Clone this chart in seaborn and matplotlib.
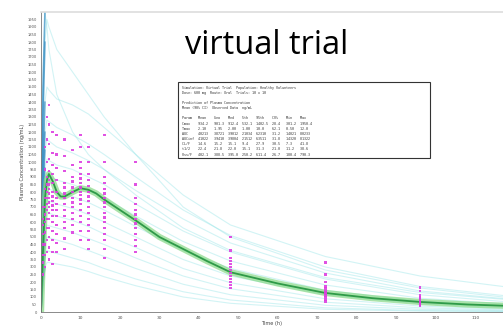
import matplotlib
matplotlib.use("Agg")
import matplotlib.pyplot as plt
import seaborn as sns
import pandas as pd
import numpy as np
from matplotlib.patches import Rectangle

# ---------------- data ----------------
sim_time = [0, 0.5, 1, 1.5, 2, 4, 8, 12, 16, 24, 36, 48, 72, 96, 117]
sim_c1 = [0, 1300, 1800, 1950, 1900, 1750, 1600, 1450, 1300, 1050, 700, 500, 280, 160, 100]
sim_c2 = [0, 1000, 1400, 1500, 1480, 1420, 1380, 1320, 1230, 1050, 780, 580, 370, 240, 170]
sim_c3 = [0, 900, 1200, 1280, 1270, 1230, 1180, 1120, 1050, 900, 680, 510, 300, 170, 110]
sim_c4 = [0, 800, 1080, 1150, 1140, 1100, 1060, 1010, 950, 810, 620, 460, 260, 140, 90]
sim_c5 = [0, 700, 960, 1020, 1010, 980, 950, 900, 850, 720, 540, 400, 220, 115, 70]
sim_c6 = [0, 620, 860, 920, 910, 880, 850, 810, 760, 640, 470, 340, 180, 92, 55]
sim_c7 = [0, 560, 780, 830, 820, 800, 770, 730, 680, 570, 410, 290, 145, 72, 40]
sim_c8 = [0, 500, 700, 750, 740, 720, 690, 650, 600, 500, 350, 240, 115, 55, 30]
sim_c9 = [0, 440, 620, 670, 660, 640, 610, 570, 520, 430, 290, 195, 88, 40, 20]
sim_c10 = [0, 380, 540, 580, 575, 560, 530, 490, 450, 360, 240, 155, 65, 28, 14]
sim_c11 = [0, 320, 460, 500, 495, 480, 450, 410, 370, 290, 185, 115, 45, 18, 9]
sim_c12 = [0, 260, 380, 410, 405, 390, 360, 330, 290, 220, 135, 80, 28, 10, 5]
sim_c13 = [0, 1500, 2000, 1900, 1750, 1450, 1200, 1050, 950, 780, 560, 410, 230, 130, 85]
sim_c14 = [0, 200, 300, 330, 330, 320, 300, 270, 235, 175, 100, 58, 18, 6, 3]
sim_curves = [sim_c1, sim_c2, sim_c3, sim_c4, sim_c5, sim_c6, sim_c7,
              sim_c8, sim_c9, sim_c10, sim_c11, sim_c12, sim_c13, sim_c14]

mean_time = [0, 0.5, 1, 1.5, 2, 3, 4, 5, 6, 8, 10, 12, 14, 16, 20, 24, 30, 36, 42,
             48, 60, 72, 84, 96, 108, 117]
mean_conc = [0, 400, 750, 880, 920, 870, 800, 770, 770, 800, 825, 815, 790, 750, 680,
             610, 500, 420, 340, 265, 190, 127, 92, 67, 50, 42]

obs_t0p5 = [250, 330, 380, 450, 520, 580, 620, 700]
obs_t1 = [300, 380, 450, 530, 600, 650, 700, 760, 820, 950, 1100]
obs_t1p5 = [400, 480, 560, 620, 680, 720, 760, 800, 850, 900, 1000, 1150, 1300]
obs_t2 = [350, 430, 500, 560, 620, 660, 700, 730, 760, 790, 820, 850, 880, 940, 1020,
          1120, 1250, 1380]
obs_t3 = [320, 400, 480, 540, 600, 640, 680, 710, 740, 770, 800, 860, 920, 980, 1060, 1200]
obs_t4 = [400, 460, 520, 580, 640, 680, 720, 760, 800, 880, 960, 1050, 1180]
obs_t6 = [420, 490, 560, 600, 640, 680, 720, 760, 790, 830, 860, 940, 1040, 1150]
obs_t8 = [530, 580, 620, 660, 700, 730, 760, 800, 830, 870, 900, 980, 1080]
obs_t10 = [480, 540, 600, 640, 680, 720, 750, 780, 800, 830, 860, 890, 920, 960, 1000,
           1100, 1180]
obs_t12 = [420, 480, 540, 580, 620, 660, 700, 740, 770, 800, 840, 880, 920, 1000, 1100]
obs_t16 = [360, 420, 480, 520, 560, 600, 630, 660, 700, 730, 760, 790, 820, 860, 900,
           1000, 1180]
obs_t24 = [400, 440, 480, 520, 560, 590, 620, 650, 680, 720, 760, 850, 1000]
obs_t48 = [160, 180, 200, 220, 240, 260, 280, 300, 320, 340, 360, 410, 500]
obs_t72 = [70, 85, 100, 110, 120, 130, 140, 155, 170, 200, 250, 330]
obs_t96 = [45, 52, 60, 68, 75, 82, 90, 100, 110, 140, 165]
obs_times = [0.5, 1, 1.5, 2, 3, 4, 6, 8, 10, 12, 16, 24, 48, 72, 96]
obs_groups = [obs_t0p5, obs_t1, obs_t1p5, obs_t2, obs_t3, obs_t4, obs_t6, obs_t8,
              obs_t10, obs_t12, obs_t16, obs_t24, obs_t48, obs_t72, obs_t96]

x_ticks = [0, 10, 20, 30, 40, 50, 60, 70, 80, 90, 100, 110]
y_ticks = list(range(0, 2000, 50))

title_text = "virtual trial"
x_label = "Time (h)"
y_label = "Plasma Concentration (ng/mL)"

box_lines = [
    "Simulation: Virtual Trial  Population: Healthy Volunteers",
    "Dose: 600 mg  Route: Oral  Trials: 10 x 10",
    "",
    "Prediction of Plasma Concentration",
    "Mean (90% CI)  Observed Data  ng/mL",
    "",
    "Param   Mean    Geo    Med    5th    95th    CV%    Min    Max",
    "Cmax    934.2   901.3  912.4  532.1  1402.5  28.4   301.2  1950.4",
    "Tmax    2.10    1.95   2.00   1.00   10.0    62.1   0.50   12.0",
    "AUC     40213   38721  39012  21034  62310   31.2   14021  80233",
    "AUCinf  41022   39410  39804  21512  63511   31.8   14320  81322",
    "CL/F    14.6    15.2   15.1   9.4    27.9    30.5   7.3    41.8",
    "t1/2    22.4    21.8   22.0   15.1   31.3    21.0   11.2   38.6",
    "Vss/F   402.1   388.5  395.0  250.2  611.4   26.7   180.4  790.3",
]

# ---------------- plot ----------------
sns.set_theme(style="white")
plt.rcParams['font.family'] = ['DejaVu Sans']

fig = plt.figure(figsize=(5.03, 3.27), dpi=100)
ax = fig.add_axes([41 / 503, 15 / 327, 462 / 503, 300 / 327])

sim_rows = []
for i, c in enumerate(sim_curves):
    for t, v in zip(sim_time, c):
        sim_rows.append({"time": t, "conc": v, "subject": i})
sim_df = pd.DataFrame(sim_rows)

sns.lineplot(data=sim_df, x="time", y="conc", units="subject", estimator=None,
             color="#8fe3e6", alpha=0.4, lw=0.8, ax=ax, legend=False)

# absorption phase drawn darker blue
rise_df = sim_df[sim_df["time"] <= 1]
sns.lineplot(data=rise_df, x="time", y="conc", units="subject", estimator=None,
             color="#3b8fc4", alpha=0.7, lw=1.2, ax=ax, legend=False)

mean_df = pd.DataFrame({"time": mean_time, "conc": mean_conc})
sns.lineplot(data=mean_df, x="time", y="conc", color="#86d886", lw=4.5, alpha=0.7,
             ax=ax, legend=False)
sns.lineplot(data=mean_df, x="time", y="conc", color="#2e9a48", lw=1.3,
             ax=ax, legend=False)

obs_rows = []
for t, vals in zip(obs_times, obs_groups):
    for v in vals:
        obs_rows.append({"time": t, "conc": v})
obs_df = pd.DataFrame(obs_rows)
sns.scatterplot(data=obs_df, x="time", y="conc", color="#dd3fe0", marker="s",
                s=4, edgecolor="none", alpha=0.9, ax=ax, legend=False, zorder=5)

ax.set_xlim(0, 117)
ax.set_ylim(0, 2000)
ax.set_xticks(x_ticks)
ax.set_xticklabels([str(t) for t in x_ticks], fontsize=3.2, color="#555555")
ax.set_yticks(y_ticks)
ax.set_yticklabels([str(t) for t in y_ticks], fontsize=2.6, color="#555555")
ax.tick_params(axis="both", length=1.5, width=0.4, pad=1.5, colors="#555555")
ax.set_xlabel(x_label, fontsize=3.6, color="#444444", labelpad=0.5)
ax.set_ylabel(y_label, fontsize=3.6, color="#444444", labelpad=2)

for side in ["left", "bottom"]:
    ax.spines[side].set_color("#777777")
    ax.spines[side].set_linewidth(0.6)
ax.spines["top"].set_color("#dddddd")
ax.spines["top"].set_linewidth(1.2)
ax.spines["right"].set_visible(False)

# stats box
bx0, by0, bw, bh = 0.297, 0.513, 0.545, 0.254
ax.add_patch(Rectangle((bx0, by0), bw, bh, transform=ax.transAxes,
                       facecolor="white", edgecolor="#333333", lw=0.8, zorder=6))
for k, line in enumerate(box_lines):
    ax.text(bx0 + 0.008, by0 + bh - 0.012 - k * 0.0172, line, transform=ax.transAxes,
            fontsize=2.4, family="DejaVu Sans Mono", color="#333333",
            va="top", ha="left", zorder=7)

fig.text(267 / 503, 1 - 45 / 327, title_text, fontsize=23.5, family="Open Sans",
         ha="center", va="center", color="black")

fig.savefig("out.png", dpi=100)
